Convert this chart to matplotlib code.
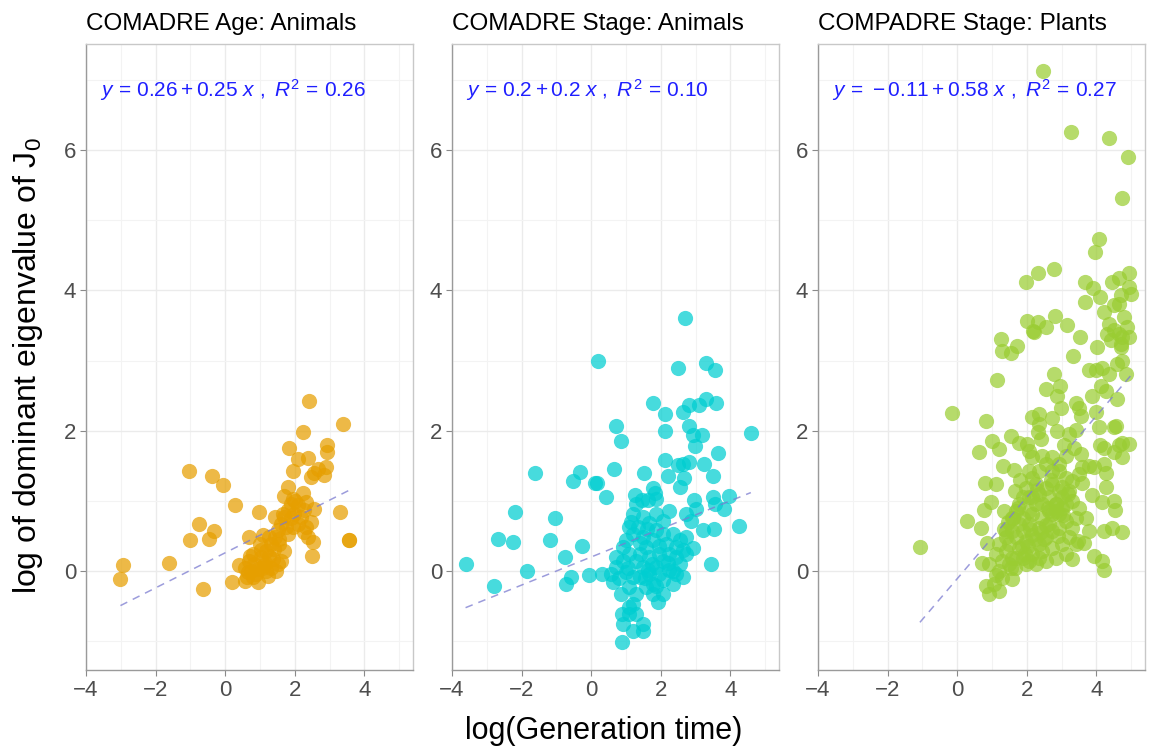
import matplotlib
matplotlib.use("Agg")
import matplotlib.pyplot as plt
from matplotlib.ticker import MultipleLocator
import numpy as np

plt.rcParams['font.family'] = ['Liberation Sans', 'DejaVu Sans']
plt.rcParams['mathtext.fontset'] = 'custom'
plt.rcParams['mathtext.rm'] = 'Liberation Sans'
plt.rcParams['mathtext.it'] = 'Liberation Sans:italic'

titles = ["COMADRE Age: Animals", "COMADRE Stage: Animals", "COMPADRE Stage: Plants"]
colors = ["#E69F00", "#00CED1", "#9ACD32"]
intercepts = [0.26, 0.2, -0.11]
slopes = [0.25, 0.2, 0.58]
eq_labels = [r"$y\,=\,0.26 + 0.25\ x\ ,\ R^2\,=\,0.26$",
             r"$y\,=\,0.2 + 0.2\ x\ ,\ R^2\,=\,0.10$",
             r"$y\,=\,-0.11 + 0.58\ x\ ,\ R^2\,=\,0.27$"]
x_ticks = [-4, -2, 0, 2, 4]
y_ticks = [0, 2, 4, 6]

# Panel 1: COMADRE Age (animals)
age_x = [2.42, 3.38, 2.23, 1.83, 2.92, 2.92, 2.09, 2.39, 1.96, 2.66, 2.90, 2.56, 2.85, 2.47,
         -1.04, -0.37, -0.07, 0.27, 0.97, -0.74, -0.33, -0.45, -1.00, -2.94, -3.01, -1.60,
         -0.64, 0.20, 3.30, 3.57, 3.57, 2.50, 2.52, 2.37, 2.47, 2.33, 2.56, 2.33, 2.23,
         1.80, 1.70, 1.94, 2.09, 2.28, 0.68,
         0.41, 0.56, 0.75, 0.94, 0.84, 1.03, 1.18, 1.32, 1.42, 1.51, 1.61, 1.70, 1.80, 1.89,
         1.99, 2.09, 1.22, 1.46, 1.61, 1.70, 1.27, 1.08, 0.99, 0.79, 0.65, 0.89, 1.13, 1.37,
         1.56, 1.80, 1.94, 1.66, 1.42, 0.56, 0.70, 0.94, 1.18, 1.32, 1.51, 1.75, 2.18, 2.28,
         0.62, 0.80, 1.05, 1.25, 1.40, 1.55, 1.02, 1.15, 0.72, 1.88, 2.00]
age_y = [2.43, 2.09, 1.98, 1.76, 1.80, 1.70, 1.60, 1.61, 1.43, 1.46, 1.48, 1.39, 1.37, 1.34,
         1.43, 1.35, 1.22, 0.94, 0.84, 0.67, 0.57, 0.46, 0.44, 0.09, -0.12, 0.11,
         -0.26, -0.16, 0.84, 0.44, 0.44, 0.21, 0.41, 0.48, 0.70, 0.63, 0.89, 0.99, 1.11,
         1.20, 1.07, 1.03, 0.94, 0.87, 0.49,
         0.08, -0.14, 0.00, -0.16, 0.10, 0.20, 0.29, 0.39, 0.48, 0.58, 0.67, 0.77, 0.87, 0.75,
         0.82, 0.67, -0.07, 0.00, 0.15, 0.29, 0.48, 0.51, 0.39, 0.24, -0.02, -0.04, 0.08, 0.17,
         0.39, 0.53, 0.63, 0.82, 0.77, 0.05, 0.15, 0.03, 0.00, 0.05, 0.10, 0.63, 0.77, 0.56,
         -0.08, -0.08, 0.05, 0.22, 0.32, 0.45, 0.30, 0.12, 0.22, 0.95, 1.00]

# Panel 2: COMADRE Stage (animals)
stage_a_x = [2.70, 0.19, 2.49, 3.30, 3.57, 1.79, 2.13, 2.65, 2.80, 3.09, 3.30, 3.59, 2.11,
             2.80, 2.93, 3.20, 2.98, 4.59, 0.70, 0.86, 3.64, 2.12, 2.49, 2.82, 3.25, 2.63,
             2.20, 2.56, 2.66, 3.51, -1.60, -0.31, -0.51, 0.11, 0.17, 0.67, 1.51, 0.43,
             1.77, 1.84, 1.26, 1.45, 1.63, 1.87, 2.97, 3.01, 3.51, 3.57, 3.83, 3.97, 4.24,
             3.52, 3.21, 3.44, 2.23, -2.20, -1.03, -2.69, -2.25, -1.18, -0.27, -0.74, -1.84,
             -3.61, -2.79, -0.57, -0.72, -0.05, 0.32, 1.93, 0.89, 0.89, 1.10, 0.91, 1.20,
             1.48, 1.48, 2.63, 2.92, 2.73, 2.87, 2.73,
             1.00, 1.20, 1.29, 1.34, 1.48, 1.67, 1.87, 2.06, 2.34, 2.54, 2.63, 2.44, 2.25,
             2.06, 1.87, 1.67, 1.48, 1.29, 1.10, 0.91, 0.72, 0.57, 0.62, 0.86, 1.10, 1.29,
             1.20, 1.10, 1.58, 1.77, 2.06, 2.34, 2.44, 2.25, 1.96, 1.58, 1.77, 1.48, 1.20,
             1.10, 0.91, 0.72, 1.39, 1.67, 1.96, 2.15, 2.44, 2.73, 1.87, 2.06, 1.63, 1.39,
             1.20, 1.00, 2.06, 1.77, 1.29,
             1.55, 1.75, 1.95, 2.20, 1.40, 1.05, 0.80, 1.60, 2.35, 1.85, 1.15, 2.55]
stage_a_y = [3.60, 3.00, 2.89, 2.96, 2.86, 2.40, 2.24, 2.26, 2.37, 2.37, 2.45, 2.40, 2.00,
             2.06, 1.94, 1.94, 1.78, 1.97, 2.07, 1.85, 1.68, 1.58, 1.51, 1.56, 1.53, 1.53,
             1.36, 1.20, 1.33, 1.35, 1.39, 1.41, 1.29, 1.25, 1.25, 1.46, 1.40, 1.05,
             1.19, 1.11, 1.09, 1.01, 1.01, 1.02, 1.01, 0.89, 1.05, 0.95, 0.88, 1.07, 0.64,
             0.60, 0.59, 0.10, 0.86, 0.84, 0.76, 0.46, 0.42, 0.44, 0.35, 0.20, 0.00,
             0.10, -0.21, -0.08, -0.18, -0.05, -0.04, -0.44, -1.01, -0.61, -0.61, -0.75, -0.85,
             -0.75, -0.85, -0.08, 0.33, 0.49, 0.72, 0.82,
             0.44, 0.82, 0.96, 0.63, 0.77, 0.68, 0.58, 0.53, 0.53, 0.44, 0.30, 0.20, 0.25,
             0.15, 0.06, -0.04, 0.06, 0.15, 0.25, 0.15, 0.06, -0.04, -0.16, -0.32, -0.23, -0.32,
             -0.47, -0.51, -0.23, -0.18, -0.13, -0.18, -0.04, 0.01, -0.04, 0.34, 0.44, 0.49, 0.53,
             0.63, 0.34, 0.20, 0.25, 0.20, 0.25, 0.39, 0.34, 0.25, 0.82, 0.72, 0.01, -0.08,
             -0.08, -0.01, -0.32, -0.32, -0.61,
             -0.10, 0.10, 0.35, 0.12, 0.40, 0.05, -0.10, 0.60, 0.00, -0.22, 0.70, 0.10]

# Panel 3: COMPADRE Stage (plants)
stage_p_x = [2.48, 3.26, 4.36, 4.91, 4.73, 4.08, 3.96, 2.78, 2.33, 1.97, 3.67, 3.91, 4.12, 3.67,
             4.46, 4.65, 4.94, 4.94, 4.99, 4.70, 4.22, 4.51, 4.65, 4.79, 4.89, 4.94,
             4.36, 4.32, 4.51, 4.65, 4.41, 4.70, 2.00, 2.19, 2.31, 2.55, 2.81, 3.15, 3.53,
             1.25, 1.73, 4.03,
             1.30, 1.56, 2.21, 3.33, 4.75, 4.70,
             1.14, -0.16, 0.84, -1.07, 0.27, 0.63, 0.99, 1.21, 1.32, 1.64, 0.80, 1.11, 1.66,
             0.97, 0.78, 0.69, 0.85, 0.72, 0.84, 0.91, 1.20, 1.59, 1.54, 1.78, 2.00,
             2.16, 2.35, 2.35, 2.33, 2.42, 2.72, 2.88, 2.55, 2.77, 2.95, 2.88, 2.98,
             3.41, 3.50, 3.55, 3.41, 3.79, 3.98, 4.17, 4.36, 4.60, 4.74, 4.84, 4.60, 4.13,
             4.27, 3.89, 3.98, 4.08, 4.51, 4.56, 4.94, 4.75, 4.65, 4.51, 4.75, 4.12, 4.22,
             3.79, 3.93, 4.22, 4.27, 4.27, 3.89, 4.17, 4.50, 4.53, 4.22, 4.46, 4.73,
             3.93, 4.17, 4.22, 3.31, 3.69, 3.79, 3.46, 3.65, 3.50, 3.60, 3.50,
             3.12, 3.22, 3.08, 3.36, 3.55, 3.60,
             1.21, 1.40, 1.49, 1.59, 1.30, 1.21, 1.68, 1.88, 2.07, 2.16, 2.26, 2.07, 1.97,
             2.16, 2.35, 2.55, 2.74, 2.93, 3.12, 3.31, 3.22, 3.02, 2.83, 2.64, 2.45, 2.35,
             2.16, 1.97, 1.78, 1.88, 2.16, 2.45, 2.74, 3.02, 3.22, 3.31, 3.12, 2.93, 2.74,
             2.55, 2.35, 2.55, 2.26, 2.07, 2.83, 3.12, 3.41, 3.41, 3.12, 2.93, 2.74, 2.55,
             2.35, 2.64, 2.45, 2.74, 2.16, 2.07, 1.88, 1.78, 1.59, 1.49, 1.40, 1.68, 1.97,
             2.35, 2.64, 2.93, 3.02, 3.31, 2.26, 2.07, 2.16, 2.45, 2.07, 2.74, 2.93,
             1.11, 1.06, 1.30, 0.92, 1.11, 1.40, 1.59, 1.78, 1.88, 1.68,
             1.45, 1.75, 2.05, 2.40, 2.60, 2.90, 3.05, 1.55, 1.85, 2.50, 2.85, 3.20, 1.35,
             1.65, 1.95, 2.25, 2.55, 2.85, 1.35, 1.60, 2.30, 2.70, 3.00, 1.80, 2.10]
stage_p_y = [7.12, 6.25, 6.17, 5.90, 5.32, 4.73, 4.54, 4.31, 4.25, 4.12, 4.12, 4.04, 3.90, 3.83,
             4.12, 4.17, 4.24, 4.05, 3.95, 3.93, 3.69, 3.79, 3.81, 3.62, 3.48, 3.33,
             3.52, 3.38, 3.43, 3.38, 3.29, 3.24, 3.57, 3.42, 3.55, 3.48, 3.64, 3.50, 3.34,
             3.31, 3.21, 3.19,
             3.13, 3.10, 3.40, 3.06, 3.33, 3.19,
             2.72, 2.25, 2.14, 0.34, 0.72, 1.69, 1.86, 1.74, 1.49, 1.44, 1.25, 1.24, 1.14,
             0.98, 0.87, 0.62, 0.40, 0.12, -0.22, -0.33, -0.28, -0.12, 1.93, 1.82, 1.81,
             2.19, 2.24, 2.10, 1.98, 1.88, 2.18, 1.99, 2.60, 2.81, 2.64, 2.50, 2.32,
             2.40, 2.33, 2.21, 2.01, 2.86, 2.86, 2.90, 2.81, 2.95, 3.00, 2.81, 2.45, 2.64,
             2.57, 2.50, 2.26, 2.05, 2.05, 2.07, 1.81, 1.83, 1.79, 1.69, 1.62, 1.79, 1.76,
             1.50, 1.48, 1.52, 1.40, 1.20, 1.09, 0.99, 1.00, 0.87, 0.57, 0.62, 0.56,
             0.21, 0.14, 0.02, 0.17, 0.76, 0.57, 0.43, 0.40, 0.90, 1.26, 1.38,
             1.64, 1.95, 1.79, 1.76, 1.67, 1.48,
             0.38, 0.29, 0.10, 0.19, 0.14, 0.00, 0.48, 0.57, 0.67, 0.81, 0.95, 1.05, 1.19,
             1.33, 1.43, 1.52, 1.62, 1.43, 1.33, 1.29, 1.14, 1.05, 0.95, 0.86, 0.76, 0.62,
             0.52, 0.43, 0.33, 0.19, 0.24, 0.29, 0.33, 0.38, 0.48, 0.62, 0.71, 0.62, 0.57,
             0.48, 0.38, 0.14, 0.10, 0.14, 0.19, 0.24, 0.38, 0.76, 0.95, 1.14, 1.24, 1.19,
             1.10, 1.05, 0.95, 0.81, 1.05, 0.86, 0.76, 0.67, 0.57, 0.38, 0.48, 0.19, 0.10,
             0.19, 0.67, 0.81, 0.90, 1.00, 1.24, 1.43, 1.62, 1.64, 1.71, 1.43, 1.52,
             -0.05, -0.19, -0.10, 0.10, 0.24, 0.57, 0.76, 0.95, 1.05, 0.86,
             0.70, 0.90, 0.35, 0.55, 0.90, 0.50, 0.80, 0.05, 0.35, 0.45, 0.95, 1.10, 0.85,
             0.05, 0.25, 0.45, 0.65, 0.85, 0.60, 0.75, 1.15, 1.30, 1.20, 1.30, 0.60]

xs = [age_x, stage_a_x, stage_p_x]
ys = [age_y, stage_a_y, stage_p_y]

W, H = 1149, 750
fig = plt.figure(figsize=(W / 100, H / 100), dpi=100)
lefts = [86, 452, 818]
pw = 327
top, bottom = 44, 670
grid_col = "#ebebeb"

for i in range(3):
    ax = fig.add_axes([lefts[i] / W, 1 - bottom / H, pw / W, (bottom - top) / H])
    ax.set_xlim(-4.0, 5.4)
    ax.set_ylim(-1.41, 7.51)
    ax.set_xticks(x_ticks)
    ax.set_yticks(y_ticks)
    ax.xaxis.set_minor_locator(MultipleLocator(1))
    ax.yaxis.set_minor_locator(MultipleLocator(1))
    ax.grid(True, which='major', color=grid_col, lw=1.0, zorder=0)
    ax.grid(True, which='minor', color="#f3f3f3", lw=0.8, zorder=0)
    ax.tick_params(which='minor', length=0)
    ax.tick_params(which='major', length=4, width=0.8, color="#8a8a8a",
                   labelsize=16, labelcolor="#4d4d4d", pad=3)
    for side in ['top', 'right']:
        ax.spines[side].set_color("#c8c8c8")
        ax.spines[side].set_linewidth(1.0)
    for side in ['left', 'bottom']:
        ax.spines[side].set_color("#9a9a9a")
        ax.spines[side].set_linewidth(1.0)
    ax.set_axisbelow(True)

    ax.scatter(xs[i], ys[i], s=120, color=colors[i], alpha=0.72, linewidths=0, zorder=2)

    xmin, xmax = min(xs[i]), max(xs[i])
    xl = np.array([xmin, xmax])
    ax.plot(xl, intercepts[i] + slopes[i] * xl, linestyle=(0, (5, 4)), color="#7b7bd0",
            alpha=0.75, lw=1.1, zorder=3)

    ax.text(0.043, 0.926, eq_labels[i], transform=ax.transAxes, color="#1f1fff",
            fontsize=15, ha='left', va='center')
    ax.set_title(titles[i], fontsize=17.5, color="black", loc='left', pad=10, x=0.0)

fig.text(28 / W, 1 - 366 / H, r"log of dominant eigenvalue of J$_0$",
         rotation=90, fontsize=23, ha='center', va='center', color="black")
fig.text(604 / W, 1 - 731 / H, "log(Generation time)", fontsize=22, ha='center', va='center',
         color="black")

fig.savefig("out.png", dpi=100)
